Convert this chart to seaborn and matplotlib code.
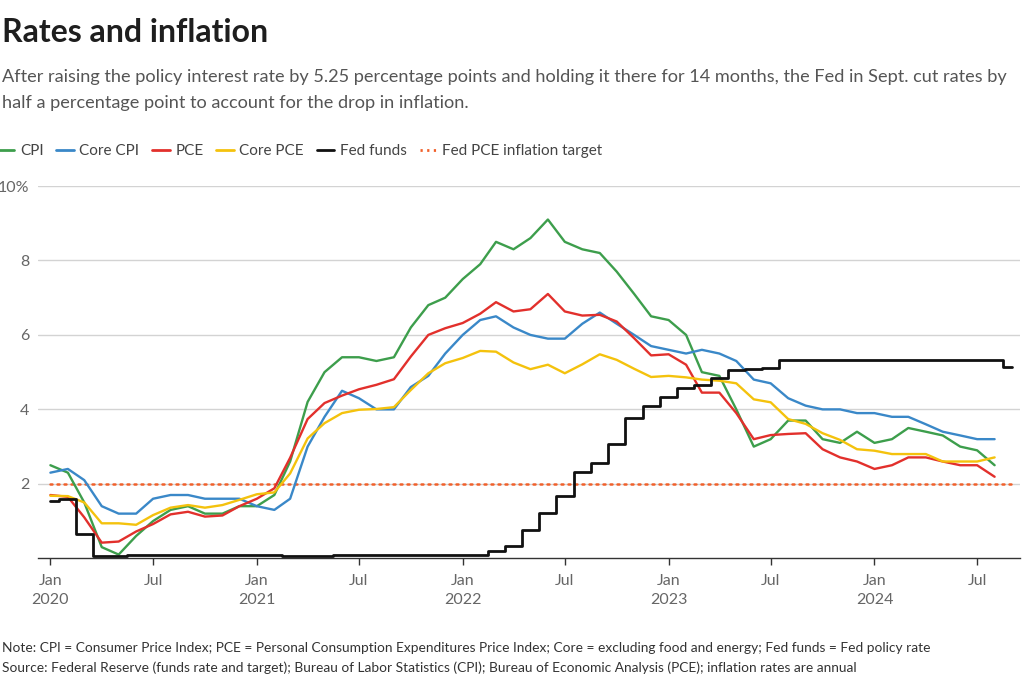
import matplotlib
matplotlib.use("Agg")
import matplotlib.pyplot as plt
import matplotlib.dates as mdates
from matplotlib.lines import Line2D
import seaborn as sns
import pandas as pd
import numpy as np

# ---------------- data ----------------
months = pd.date_range("2020-01-01", "2024-08-01", freq="MS")
fed_months = pd.date_range("2020-01-01", "2024-09-01", freq="MS")

cpi = [2.5, 2.3, 1.5, 0.3, 0.1, 0.6, 1.0, 1.3, 1.4, 1.2, 1.2, 1.4,
       1.4, 1.7, 2.6, 4.2, 5.0, 5.4, 5.4, 5.3, 5.4, 6.2, 6.8, 7.0,
       7.5, 7.9, 8.5, 8.3, 8.6, 9.1, 8.5, 8.3, 8.2, 7.7, 7.1, 6.5,
       6.4, 6.0, 5.0, 4.9, 4.0, 3.0, 3.2, 3.7, 3.7, 3.2, 3.1, 3.4,
       3.1, 3.2, 3.5, 3.4, 3.3, 3.0, 2.9, 2.5]
core_cpi = [2.3, 2.4, 2.1, 1.4, 1.2, 1.2, 1.6, 1.7, 1.7, 1.6, 1.6, 1.6,
            1.4, 1.3, 1.6, 3.0, 3.8, 4.5, 4.3, 4.0, 4.0, 4.6, 4.9, 5.5,
            6.0, 6.4, 6.5, 6.2, 6.0, 5.9, 5.9, 6.3, 6.6, 6.3, 6.0, 5.7,
            5.6, 5.5, 5.6, 5.5, 5.3, 4.8, 4.7, 4.3, 4.1, 4.0, 4.0, 3.9,
            3.9, 3.8, 3.8, 3.6, 3.4, 3.3, 3.2, 3.2]
pce = [1.7, 1.65, 1.1, 0.42, 0.45, 0.72, 0.92, 1.18, 1.25, 1.12, 1.15, 1.4,
       1.6, 1.88, 2.7, 3.74, 4.17, 4.37, 4.54, 4.66, 4.81, 5.42, 6.0, 6.18,
       6.32, 6.57, 6.88, 6.63, 6.69, 7.1, 6.63, 6.52, 6.54, 6.36, 5.91, 5.45,
       5.48, 5.2, 4.45, 4.45, 3.9, 3.2, 3.31, 3.34, 3.36, 2.93, 2.71, 2.6,
       2.4, 2.5, 2.71, 2.71, 2.6, 2.5, 2.5, 2.19]
core_pce = [1.68, 1.67, 1.5, 0.94, 0.94, 0.9, 1.16, 1.36, 1.43, 1.36, 1.43, 1.57,
            1.72, 1.77, 2.28, 3.22, 3.63, 3.9, 3.99, 4.01, 4.06, 4.52, 4.97, 5.24,
            5.38, 5.57, 5.55, 5.26, 5.08, 5.2, 4.97, 5.21, 5.48, 5.33, 5.09, 4.87,
            4.9, 4.86, 4.8, 4.77, 4.7, 4.27, 4.19, 3.74, 3.61, 3.36, 3.18, 2.93,
            2.89, 2.8, 2.8, 2.8, 2.6, 2.6, 2.6, 2.71]
fed_funds = [1.55, 1.58, 0.65, 0.05, 0.05, 0.08, 0.09, 0.10, 0.09, 0.09, 0.09, 0.09,
             0.09, 0.08, 0.07, 0.07, 0.06, 0.08, 0.10, 0.09, 0.08, 0.08, 0.08, 0.08,
             0.08, 0.08, 0.20, 0.33, 0.77, 1.21, 1.68, 2.33, 2.56, 3.08, 3.78, 4.10,
             4.33, 4.57, 4.65, 4.83, 5.06, 5.08, 5.12, 5.33, 5.33, 5.33, 5.33, 5.33,
             5.33, 5.33, 5.33, 5.33, 5.33, 5.33, 5.33, 5.33, 5.13]
target_dates = pd.to_datetime(["2020-01-01", "2024-09-01"])
target = [2.0, 2.0]

series_names = ["CPI", "Core CPI", "PCE", "Core PCE"]
series_colors = ["#3d9e4c", "#3a88c8", "#e2302c", "#f4c20d"]
fed_color = "#111111"
target_color = "#f1602a"

y_ticks = [2, 4, 6, 8, 10]
y_ticklabels = ["2", "4", "6", "8", "10%"]

# ---------------- figure ----------------
sns.set_theme(style="white")
plt.rcParams["font.family"] = ["Lato", "DejaVu Sans"]

fig = plt.figure(figsize=(10.24, 6.83), dpi=100)
ax = fig.add_axes([38 / 1024, 1 - 558.3 / 683, (1020 - 38) / 1024, (558.3 - 186) / 683])

infl = pd.DataFrame({"date": months, "CPI": cpi, "Core CPI": core_cpi,
                     "PCE": pce, "Core PCE": core_pce})
long = infl.melt(id_vars="date", var_name="series", value_name="value")

# target line (drawn first, under the others)
sns.lineplot(x=target_dates, y=target, ax=ax, color=target_color,
             lw=1.8, linestyle=(0, (0.8, 2.0)), dash_capstyle="round")

sns.lineplot(data=long, x="date", y="value", hue="series",
             hue_order=series_names, palette=series_colors, lw=1.7,
             ax=ax, legend=False)

fed_df = pd.DataFrame({"date": fed_months, "rate": fed_funds})
sns.lineplot(data=fed_df, x="date", y="rate", ax=ax, color=fed_color,
             lw=2.0, drawstyle="steps-mid")

# axes styling
ax.set_xlim(pd.Timestamp("2019-12-10"), pd.Timestamp("2024-09-15"))
ax.set_ylim(0, 10)
ax.set_xlabel("")
ax.set_ylabel("")
for s in ["top", "right", "left"]:
    ax.spines[s].set_visible(False)
ax.spines["bottom"].set_color("#333333")
ax.spines["bottom"].set_linewidth(1.0)
ax.spines["bottom"].set_zorder(1)

ax.set_yticks(y_ticks)
ax.set_yticklabels(y_ticklabels)
ax.yaxis.grid(True, color="#d3d3d3", lw=1.0)
ax.set_axisbelow(True)
ax.tick_params(axis="y", length=0, pad=6, labelsize=11.5, labelcolor="#666666")

xt = pd.date_range("2020-01-01", "2024-07-01", freq="6MS")
xlabels = [f"Jan\n{d.year}" if d.month == 1 else "Jul" for d in xt]
ax.set_xticks(xt)
ax.set_xticklabels(xlabels, linespacing=1.5)
ax.tick_params(axis="x", length=5, width=1.0, color="#333333", direction="out",
               pad=6, labelsize=11.5, labelcolor="#666666", bottom=True)
for lab in ax.get_xticklabels():
    lab.set_verticalalignment("top")

# legend
handles = [Line2D([], [], color=c, lw=2) for c in series_colors]
handles.append(Line2D([], [], color=fed_color, lw=2))
handles.append(Line2D([], [], color=target_color, lw=2, linestyle=(0, (0.8, 1.6))))
labels = series_names + ["Fed funds", "Fed PCE inflation target"]
fig.legend(handles, labels, loc="center left", bbox_to_anchor=(-0.003, 1 - 151 / 683),
           ncol=6, frameon=False, fontsize=11, handlelength=1.15,
           handletextpad=0.35, columnspacing=0.85, borderpad=0, borderaxespad=0,
           labelcolor="#444444")

# titles
fig.text(2 / 1024, 1 - 41.7 / 683, "Rates and inflation", fontsize=23,
         fontweight="bold", color="#1e1e1e", va="baseline", ha="left")
fig.text(2 / 1024, 1 - 81.7 / 683,
         "After raising the policy interest rate by 5.25 percentage points and holding it there for 14 months, the Fed in Sept. cut rates by",
         fontsize=13.05, color="#555555", va="baseline", ha="left")
fig.text(2 / 1024, 1 - 108.3 / 683,
         "half a percentage point to account for the drop in inflation.",
         fontsize=13.05, color="#555555", va="baseline", ha="left")

fig.text(2 / 1024, 1 - 652 / 683,
         "Note: CPI = Consumer Price Index; PCE = Personal Consumption Expenditures Price Index; Core = excluding food and energy; Fed funds = Fed policy rate",
         fontsize=9.9, color="#333333", va="baseline", ha="left")
fig.text(2 / 1024, 1 - 672 / 683,
         "Source: Federal Reserve (funds rate and target); Bureau of Labor Statistics (CPI); Bureau of Economic Analysis (PCE); inflation rates are annual",
         fontsize=9.9, color="#333333", va="baseline", ha="left")

fig.savefig("out.png", dpi=100)
